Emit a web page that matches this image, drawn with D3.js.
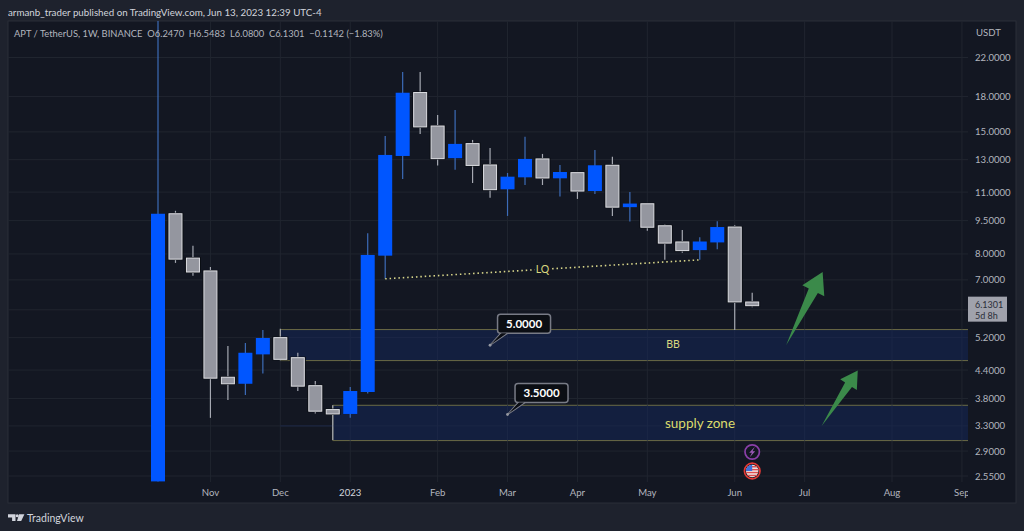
<!DOCTYPE html>
<html><head><meta charset="utf-8">
<script src="https://cdn.jsdelivr.net/npm/d3@7"></script>
<style>
html,body{margin:0;padding:0;background:#1e222d;overflow:hidden}
svg{display:block}
text{font-family:Lato,"Noto Sans",sans-serif}
</style></head><body><svg id="c" width="1024" height="531"></svg>
<script>
const titleText = "armanb_trader published on TradingView.com, Jun 13, 2023 12:39 UTC-4";
const legendText = "APT / TetherUS, 1W, BINANCE  O6.2470  H6.5483  L6.0800  C6.1301  −0.1142 (−1.83%)";
const opens  = [2.48,9.84,7.83,7.33,4.24,4.10,4.77,5.20,4.69,4.06,3.59,3.51,3.93,7.93,13.25,18.37,15.46,13.10,14.12,12.65,11.16,11.87,13.05,11.81,12.16,11.06,12.63,10.18,10.36,9.25,8.51,8.16,8.49,9.19,6.247];
const highs  = [100,9.99,8.34,7.48,4.98,5.06,5.41,5.44,4.81,4.16,3.67,4.03,8.90,14.68,20.42,20.42,16.36,16.79,14.39,13.81,12.14,14.63,13.39,12.65,12.20,13.67,13.20,11.00,10.36,9.31,9.05,8.72,9.47,9.27,6.5483];
const lows   = [2.48,7.64,7.15,3.44,3.77,3.87,4.32,4.62,3.95,3.52,3.07,3.44,3.90,7.04,11.77,14.84,12.62,12.35,11.53,10.68,9.73,11.41,11.41,10.75,10.62,10.89,9.73,9.45,9.02,7.76,8.05,7.76,8.20,5.41,6.08];
const closes = [9.84,7.79,7.29,4.22,4.10,4.81,5.19,4.65,4.05,3.56,3.51,3.95,7.96,13.32,18.35,15.39,13.07,14.10,12.62,11.14,11.91,13.05,11.83,12.20,11.06,12.63,10.18,10.37,9.18,8.46,8.14,8.53,9.19,6.25,6.1301];
const priceTicks = [22,18,15,13,11,9.5,8,7,5.2,4.4,3.8,3.3,2.9,2.55];
const gridExtra = [6];
const monthLabels = ["Nov","Dec","2023","Feb","Mar","Apr","May","Jun","Jul","Aug","Sep"];
const monthIndex  = [3,7,11,16,20,24,28,33,37,42,46];
const zoneTop = [5.42,3.67], zoneBottom = [4.62,3.06], zoneStart = [7,10];
const callTexts = ["5.0000","3.5000"], callPrices = [5.0,3.5], callIndex = [19.0,20.0];
const lqIndex = [13,31], lqPrice = [7.04,7.76];
const arrowIndex = [[35.94,38.03],[37.97,40.04]], arrowPrice = [[5.0,7.29],[3.3,4.39]];
const lastPrice = 6.1301, countdown = "5d 8h";

const svg = d3.select("#c");
const L=8,T=21,R=1016,B=503,PR=968,PB=482;
const y = d3.scaleLog().domain([22,2.55]).range([57.5,476]);
const x = d3.scaleLinear().domain([0,34]).range([158,752.2]);
const colUp="#0056ff", colDn="#94969f", gridCol="#20252f", zoneEdge="#6b6a45";

svg.append("rect").attr("x",L).attr("y",T).attr("width",R-L).attr("height",B-T).attr("fill","#131722").attr("stroke","#2a2e39");
const defs=svg.append("defs");
defs.append("clipPath").attr("id","pl").append("rect").attr("x",L).attr("y",T).attr("width",PR-L).attr("height",PB-T);
defs.append("clipPath").attr("id","tl").append("rect").attr("x",L).attr("y",PB).attr("width",PR-L).attr("height",B-PB);

svg.append("text").attr("x",8).attr("y",15.5).attr("fill","#d1d4dc").attr("font-size",9.76).text(titleText);
const plot = svg.append("g").attr("clip-path","url(#pl)");

// grid
plot.selectAll(".h").data(priceTicks.concat(gridExtra)).join("line").attr("x1",L).attr("x2",PR)
  .attr("y1",d=>y(d)).attr("y2",d=>y(d)).attr("stroke",gridCol);
plot.selectAll(".v").data(monthIndex).join("line").attr("y1",T).attr("y2",PB)
  .attr("x1",d=>x(d)).attr("x2",d=>x(d)).attr("stroke",gridCol);

// zones
zoneTop.forEach((t,i)=>{
  plot.append("rect").attr("x",x(zoneStart[i])).attr("width",PR-x(zoneStart[i])).attr("y",y(t)).attr("height",y(zoneBottom[i])-y(t)).attr("fill","#131f3f");
  [t,zoneBottom[i]].forEach(v=>plot.append("line").attr("x1",x(zoneStart[i])).attr("x2",PR).attr("y1",y(v)).attr("y2",y(v)).attr("stroke",zoneEdge));
  plot.append("line").attr("x1",x(zoneStart[i])).attr("x2",x(zoneStart[i])).attr("y1",y(t)).attr("y2",y(zoneBottom[i])).attr("stroke",zoneEdge);
});
plot.selectAll(".h2").data(priceTicks.filter(d=>d==5.2||d==3.3)).join("line").attr("x1",x(7)).attr("x2",PR).attr("y1",d=>y(d)).attr("y2",d=>y(d)).attr("stroke","#1b2746");
plot.selectAll(".v2").data(monthIndex.filter(d=>d>10)).join("line").attr("y1",y(5.42)).attr("y2",y(4.62)).attr("x1",d=>x(d)).attr("x2",d=>x(d)).attr("stroke","#1b2746");
plot.selectAll(".v3").data(monthIndex.filter(d=>d>10)).join("line").attr("y1",y(3.67)).attr("y2",y(3.06)).attr("x1",d=>x(d)).attr("x2",d=>x(d)).attr("stroke","#1b2746");

// candles
const idx=d3.range(opens.length);
const cw=14;
const isUp=i=>closes[i]>=opens[i];
const bodyTop=i=>y(Math.max(opens[i],closes[i])), bodyH=i=>Math.max(1,Math.abs(y(opens[i])-y(closes[i])));
plot.selectAll(".w").data(idx).join("line").attr("x1",i=>x(i)).attr("x2",i=>x(i))
  .attr("y1",i=>y(highs[i])).attr("y2",i=>y(lows[i])).attr("stroke-width",1.2)
  .attr("stroke",i=>isUp(i)?"#3d6cb8":"#a6a9b2");
plot.selectAll(".halo").data(idx.filter(i=>!isUp(i))).join("rect").attr("x",i=>x(i)-cw/2-1).attr("width",cw+2)
  .attr("y",i=>bodyTop(i)-1).attr("height",i=>bodyH(i)+2).attr("fill","#0b0e14");
plot.selectAll(".b").data(idx).join("rect")
  .attr("x",i=>x(i)-cw/2+(isUp(i)?0:.5)).attr("width",i=>isUp(i)?cw:cw-1)
  .attr("y",i=>bodyTop(i)).attr("height",bodyH)
  .attr("fill",i=>isUp(i)?colUp:colDn)
  .attr("stroke",i=>isUp(i)?"none":"#dcdde2").attr("stroke-width",1);

// LQ line
plot.append("line").attr("x1",x(lqIndex[0])).attr("y1",y(lqPrice[0])).attr("x2",x(lqIndex[1])).attr("y2",y(lqPrice[1]))
  .attr("stroke","#d8d68a").attr("stroke-width",1.6).attr("stroke-dasharray","1.5 2.9");
const lqx=(x(lqIndex[0])+x(lqIndex[1]))/2, lqy=(y(lqPrice[0])+y(lqPrice[1]))/2;
plot.append("rect").attr("x",lqx-8).attr("y",lqy-6).attr("width",16).attr("height",12).attr("fill","#131722");
plot.append("text").attr("x",lqx).attr("y",lqy+3.5).attr("text-anchor","middle").attr("fill","#d9d77f").attr("font-size",10.5).text("LQ");

plot.append("text").attr("x",673).attr("y",y(5.0)+3).attr("text-anchor","middle").attr("fill","#d9d77f").attr("font-size",10.5).text("BB");
plot.append("text").attr("x",700).attr("y",428).attr("text-anchor","middle").attr("fill","#dcdc6c").attr("font-size",13.5).text("supply zone");

// callouts
callTexts.forEach((t,i)=>{
  const px=x(callIndex[i]), py=y(callPrices[i]);
  const bx=px+7.5, by=py-31, bw=53, bh=19;
  const g=plot.append("g");
  g.append("path").attr("d",`M${px},${py}L${bx+3},${by+bh}L${bx+10},${by+bh}Z`).attr("fill","#0b0e14").attr("stroke","#787b86").attr("stroke-width",1.2);
  g.append("rect").attr("x",bx).attr("y",by).attr("width",bw).attr("height",bh).attr("rx",3).attr("fill","#0b0e14").attr("stroke","#787b86").attr("stroke-width",1.5);
  g.append("path").attr("d",`M${px+1},${py-1}L${bx+4},${by+bh}L${bx+9},${by+bh}Z`).attr("fill","#0b0e14");
  g.append("circle").attr("cx",px).attr("cy",py).attr("r",1.4).attr("fill","#9598a1");
  g.append("text").attr("x",bx+bw/2).attr("y",by+13.7).attr("text-anchor","middle").attr("fill","#fff").attr("font-weight",700).attr("font-size",11.5).text(t);
});

// arrows
arrowIndex.forEach((a,i)=>{
  const x0=x(a[0]),y0=y(arrowPrice[i][0]),x1=x(a[1]),y1=y(arrowPrice[i][1]);
  const dx=x1-x0,dy=y1-y0,l=Math.hypot(dx,dy),ux=dx/l,uy=dy/l,nx=-uy,ny=ux;
  const hl=l*.255,hw=l*.15,sw=l*.062;
  const bx=x1-ux*hl,by=y1-uy*hl;
  const pts=[[x0,y0],[bx+nx*sw,by+ny*sw],[bx+nx*hw,by+ny*hw],[x1,y1],[bx-nx*hw,by-ny*hw],[bx-nx*sw,by-ny*sw]];
  plot.append("path").attr("d","M"+pts.map(p=>p.join(",")).join("L")+"Z").attr("fill","#3b8a4a");
});

// event icons
const ix=x(34);
plot.append("circle").attr("cx",ix).attr("cy",452).attr("r",7.2).attr("fill","#131722").attr("stroke","#8a3fa8").attr("stroke-width",1.7);
plot.append("path").attr("d",`M${ix+2.6},${446.8}L${ix-3},${452.8}L${ix-0.3},${452.8}L${ix-2.4},${457.2}L${ix+3},${451.2}L${ix+0.3},${451.2}Z`).attr("fill","#9b59b6");
plot.append("circle").attr("cx",ix).attr("cy",471).attr("r",7.8).attr("fill","#131722").attr("stroke","#e53935").attr("stroke-width",1.7);
plot.append("circle").attr("cx",ix).attr("cy",471).attr("r",6.2).attr("fill","#eee");
defs.append("clipPath").attr("id","fl").append("circle").attr("cx",ix).attr("cy",471).attr("r",6.2);
const flag=plot.append("g").attr("clip-path","url(#fl)");
[0,1,2,3].forEach(r=>flag.append("rect").attr("x",ix-7).attr("y",466+r*2.9).attr("width",14).attr("height",1.5).attr("fill","#e04f4f"));
flag.append("rect").attr("x",ix-7).attr("y",464).attr("width",7).attr("height",7).attr("fill","#3f6fd8");

// legend
svg.append("text").attr("x",14).attr("y",36.5).attr("fill","#b2b5be").attr("font-size",9.35).attr("xml:space","preserve").text(legendText);

// price axis
svg.selectAll(".pt").data(priceTicks).join("text").attr("x",975).attr("y",d=>y(d)+3.5)
  .attr("fill","#b2b5be").attr("font-size",9.6).text(d=>d.toFixed(4));
svg.append("text").attr("x",976).attr("y",36).attr("fill","#b2b5be").attr("font-size",9.6).text("USDT");
const ly=y(lastPrice);
svg.append("rect").attr("x",968).attr("y",ly-9).attr("width",39).attr("height",25).attr("fill","#a0a2ac");
svg.append("text").attr("x",975).attr("y",ly+2.2).attr("fill","#2a2e39").attr("font-size",9).text(lastPrice.toFixed(4));
svg.append("text").attr("x",975).attr("y",ly+13.4).attr("fill","#2a2e39").attr("font-size",9).text(countdown);

// time axis
svg.append("g").attr("clip-path","url(#tl)").selectAll("text").data(monthIndex).join("text").attr("x",d=>x(d)).attr("y",496)
  .attr("text-anchor","middle").attr("fill",(d,i)=>monthLabels[i]=="2023"?"#d1d4dc":"#b2b5be")
  .attr("font-size",9.6).text((d,i)=>monthLabels[i]);

// footer logo
svg.append("path").attr("d","M8,514.3h7.5v6.8h-3.4v-3.6h-4.1zM19,514.3h5.4l-3.2,6.8h-4.2z").attr("fill","#d1d4dc");
svg.append("circle").attr("cx",17.2).attr("cy",515.8).attr("r",1.5).attr("fill","#d1d4dc");
svg.append("text").attr("x",27).attr("y",522).attr("fill","#d1d4dc").attr("font-size",10.5).text("TradingView");
</script></body></html>
